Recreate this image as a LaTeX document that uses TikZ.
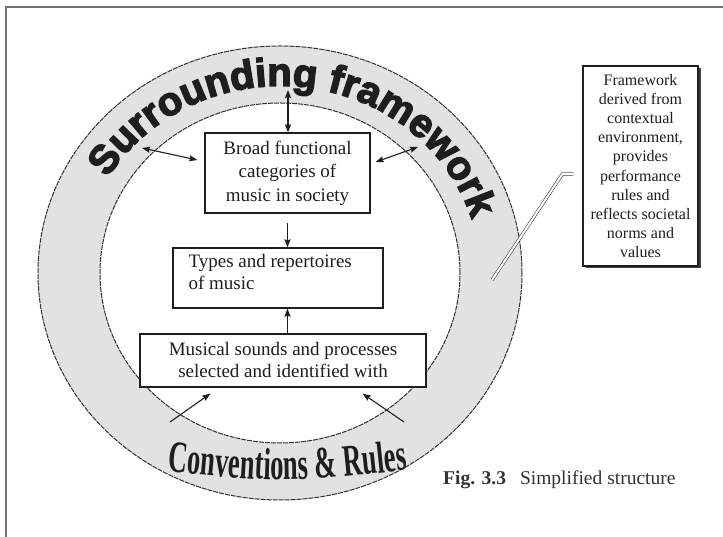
\documentclass[tikz,border=0pt]{standalone}
\usepackage{fontspec}
\setmainfont{Liberation Serif}
\newfontfamily\heavyfont{Liberation Sans}[FakeBold=3.5, FakeStretch=1.0]
\newfontfamily\condfont{Liberation Serif}[FakeStretch=0.59]
\usetikzlibrary{arrows.meta, decorations.text, calc, shadows}
\definecolor{ringgray}{HTML}{E2E2E2}
\definecolor{ink}{HTML}{1E1E1E}

\begin{document}
\begin{tikzpicture}[x=1pt, y=1pt,
  box/.style={draw=ink, line width=1.3pt, fill=white, inner sep=0pt},
  tip/.tip={Stealth[length=8pt, width=6pt, inset=1pt]},
  arr/.style={draw=ink, line width=1.1pt, -tip},
  dbl/.style={draw=ink, line width=1.1pt, tip-tip},
  ringline/.style={draw=black!80, line width=1pt, dash pattern=on 5pt off 1pt},
  boxtext/.style={font=\fontsize{19}{23.5}\selectfont, text=ink, align=center},
]
\fill[white] (0,0) rectangle (723,537);
\useasboundingbox (0,0) rectangle (723,537);

% page frame
\draw[black!55, line width=1.4pt] (6,0) -- (6,530) -- (723,530);

% the surrounding ring
\coordinate (C) at (280,264);
\fill[ringgray, even odd rule]
  (C) ellipse[x radius=242, y radius=227]
  (C) ellipse[x radius=180, y radius=170];
\draw[ringline] (C) ellipse[x radius=242, y radius=227];
\draw[ringline] (C) ellipse[x radius=180, y radius=170];

% lettering along the ring
\path[decorate, decoration={text along path, text align=center,
  text={|\heavyfont\bfseries\fontsize{40pt}{40pt}\selectfont\color{ink}|Surrounding framework}}]
  ($(C)+(173:200 and 187)$) arc[start angle=173, end angle=-7, x radius=200, y radius=187];
\path[decorate, decoration={text along path, text align=center,
  text={|\condfont\bfseries\fontsize{45pt}{45pt}\selectfont\color{ink}|Conventions {\&} Rules}}]
  (160,66) .. controls (288,54) .. (415,68);

% boxes
\node[box, minimum width=165, minimum height=80, boxtext] (b1) at (287.5,364)
  {Broad functional\\categories of\\music in society};
\node[box, minimum width=210, minimum height=60] (b2) at (278,259) {};
\node[boxtext, align=left, anchor=west, inner sep=0pt, font=\fontsize{19}{22}\selectfont] (b2t)
  at ([xshift=16pt, yshift=6pt]b2.west) {Types and repertoires\\of music};
\node[box, minimum width=286, minimum height=53, boxtext, font=\fontsize{19}{22}\selectfont] (b3)
  at (283,176.5) {Musical sounds and processes\\selected and identified with};

% side note
\node[box, line width=1.1pt, minimum width=115, minimum height=200,
  font=\fontsize{16}{19.1}\selectfont, text=ink, align=center,
  drop shadow={shadow xshift=2.5pt, shadow yshift=-2.5pt, fill=black!75, opacity=1}]
  (cb) at (640.5,371)
  {Framework\\derived from\\contextual\\environment,\\provides\\performance\\rules and\\reflects societal\\norms and\\values};
\coordinate (ce) at (492,257);
\draw[black!75, line width=0.6pt, double=white, double distance=2pt]
  ($(cb.west)+(-9,-8)$) -- ++(-11,0) -- (ce);

% connectors
\coordinate (topend) at (288,447);
\draw[dbl] (topend) -- (b1.north -| topend);
\coordinate (lo) at (142,389);
\draw[dbl] (lo) -- ($(b1.west)+(-7,13)$);
\coordinate (ro) at (418,390);
\draw[dbl] ($(b1.east)+(5,11)$) -- (ro);
\draw[arr] ($(b1.south)+(0,-9)$) -- (b1.south |- b2.north);
\draw[arr] (b1.south |- b3.north) -- (b1.south |- b2.south);
\coordinate (llt) at (170,115);
\draw[arr] (llt) -- ($(b3.south west)+(71,-6)$);
\coordinate (lrt) at (404,115);
\draw[arr] (lrt) -- ($(b3.south east)+(-64,-6)$);

% caption
\node[anchor=base west, inner sep=0pt, font=\fontsize{19.5}{22}\selectfont, text=black!80]
  (cap) at (443,52) {\textbf{Fig. 3.3}\hspace{14pt}Simplified structure};
\end{tikzpicture}
\end{document}
